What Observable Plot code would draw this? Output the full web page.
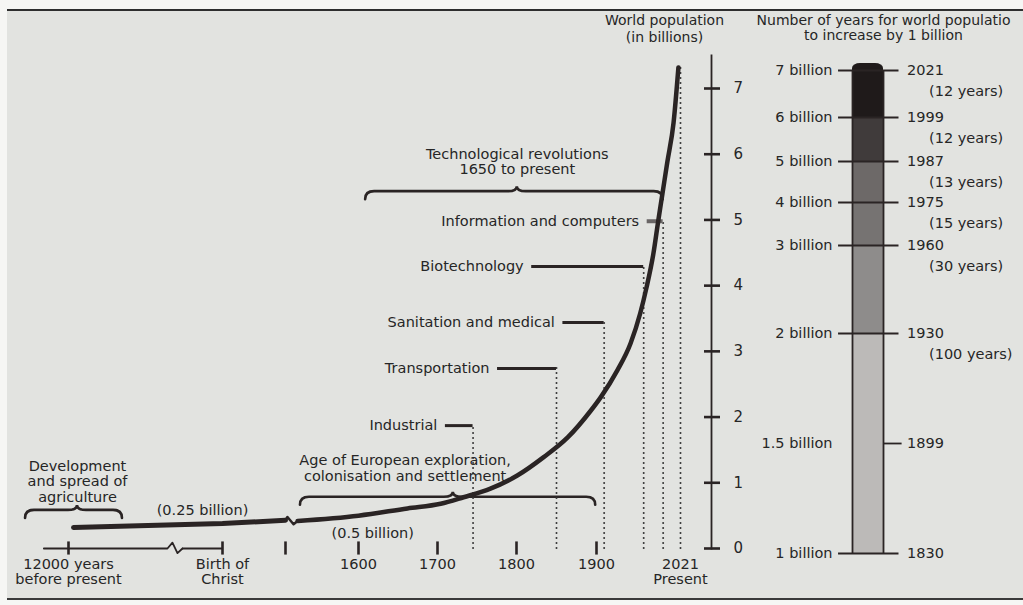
<!DOCTYPE html>
<html><head><meta charset="utf-8">
<script src="https://cdn.jsdelivr.net/npm/d3@7"></script>
<script src="https://cdn.jsdelivr.net/npm/@observablehq/plot@0.6"></script>
<style>
html,body{margin:0;padding:0;background:#f6f6f4;width:1023px;height:605px;overflow:hidden;}
#paper{position:absolute;left:7px;top:9px;width:1016px;height:587px;background:#e2e3e0;border-top:2px solid #2e2e2e;border-bottom:2px solid #3a3a3a;}
.layer{position:absolute;left:0;top:0;}
</style></head><body>
<div id="paper"></div>
<div id="main" class="layer"></div>
<div id="side" class="layer"></div>
<script>
// ---------- data ----------
const tickYears = [-10000, 0, 1000, 1600, 1700, 1800, 1900];
const tickLabelYears = [-10000, 0, 1600, 1700, 1800, 1900, 2021];
const tickLabelTexts = ["12000 years\nbefore present", "Birth of\nChrist", "1600", "1700", "1800", "1900", "2021\nPresent"];

// axis line with its break mark (year, value)
const axisLineYears = [-11600, -3575, -3250, -2925, -2600];
const axisLineValues = [0, 0, 0.09, -0.07, 0];

// population, billions
const earlyYears = [-9675, 0, 1000];
const earlyPop = [0.32, 0.38, 0.43];
const breakYears = [1000, 1016, 1066, 1100];
const breakPop = [0.43, 0.48, 0.37, 0.42];
const popYears = [1100, 1600, 1662, 1704, 1733, 1767, 1801, 1834, 1864, 1893, 1906, 1930, 1949, 1963, 1972, 1982, 1989, 1995, 2002, 2011, 2018];
const popValues = [0.42, 0.50, 0.61, 0.68, 0.78, 0.91, 1.11, 1.39, 1.69, 2.10, 2.30, 2.71, 3.12, 3.58, 3.97, 4.49, 4.99, 5.40, 5.88, 6.48, 7.32];

const revolutions = ["Industrial", "Transportation", "Sanitation and medical", "Biotechnology", "Information and computers"];
const revStart = [1710, 1776, 1858, 1819, 1973];
const revYear = [1745, 1850, 1911, 1968, 1996];
const revPop = [1.87, 2.74, 3.44, 4.29, 4.98];
const presentYear = 2021;
const presentPop = 7.32;

const yTicks = [0, 1, 2, 3, 4, 5, 6, 7];

const noteTexts = ["Development\nand spread of\nagriculture", "(0.25 billion)", "(0.5 billion)", "Age of European exploration,\ncolonisation and settlement", "Technological revolutions\n1650 to present"];
const noteYears = [-9416, -1298, 1618, 1659, 1801];
const notePop = [1.02, 0.58, 0.23, 1.23, 5.89];

const braceFrom = [-12790, 1123, 1609];
const braceTo = [-6495, 1899, 1996];
const braceMid = [-9416, 1720, 1801];
const bracePop = [0.58, 0.78, 5.43];

// right panel
const billions = [1, 1.5, 2, 3, 4, 5, 6, 7];
const billionYears = [1830, 1899, 1930, 1960, 1975, 1987, 1999, 2021];
const intervalTexts = ["", "", "(100 years)", "(30 years)", "(15 years)", "(13 years)", "(12 years)", "(12 years)"];
const segLow = [1, 2, 3, 4, 5, 6];
const segHigh = [2, 3, 4, 5, 6, 7];

// ---------- scale layout (broken time axis, uneven billion axis) ----------
const timeAxis = d3.scaleLinear()
  .domain([-10000, 0, 1000, 1600, 1700, 1800, 1900, 2021])
  .range([68, 222, 285, 358, 437, 516, 596, 680]);
const billionAxis = d3.scaleLinear()
  .domain(billions)
  .range([553, 443, 333, 245, 202, 161, 117, 70]);

// ---------- styles ----------
const ink = "#2a2424";
const shades = ["#bcbab8", "#8e8c8b", "#767372", "#6d6968", "#403b3b", "#1f1a1a"];
const font = {fontFamily: "DejaVu Sans, sans-serif", fontSize: "14.5px", background: "transparent", color: "#262626", overflow: "visible"};

const idx = n => d3.range(n);

const main = Plot.plot({
  width: 1023, height: 605,
  marginLeft: 0, marginRight: 312, marginTop: 55, marginBottom: 57,
  style: font,
  x: {transform: timeAxis, domain: [0, 1023], range: [0, 1023], axis: null},
  y: {domain: [0, 7], range: [548, 88]},
  marks: [
    // time axis
    Plot.line(idx(axisLineYears.length), {x: i => axisLineYears[i], y: i => axisLineValues[i], stroke: ink, strokeWidth: 1.8}),
    Plot.ruleY([0], {x1: axisLineYears[axisLineYears.length - 1], stroke: ink, strokeWidth: 1.8}),
    Plot.ruleX(tickYears, {x: d => d, y1: -0.1, y2: 0.1, stroke: ink, strokeWidth: 2.6}),
    Plot.text(idx(tickLabelYears.length), {x: i => tickLabelYears[i], y: 0, text: i => tickLabelTexts[i], lineAnchor: "top", dy: 9, lineHeight: 1.08, fontSize: 14.5}),
    // y axis
    Plot.frame({anchor: "right", stroke: ink, strokeWidth: 1.8}),
    Plot.axisY({anchor: "right", ticks: yTicks, tickSize: 16, dx: -8, tickPadding: 14, strokeWidth: 2.6, stroke: ink, fontSize: 15, tickFormat: d => d, label: null}),
    // dotted year lines
    Plot.ruleX(idx(revYear.length), {x: i => revYear[i], y1: 0, y2: i => revPop[i], stroke: "#333", strokeWidth: 2, strokeDasharray: "0 5", strokeLinecap: "round"}),
    Plot.ruleX([presentYear], {x: d => d, y1: 0, y2: presentPop, stroke: "#333", strokeWidth: 2, strokeDasharray: "0 5", strokeLinecap: "round"}),
    // revolution leader lines
    Plot.ruleY(idx(4), {y: i => revPop[i], x1: i => revStart[i], x2: i => revYear[i], stroke: ink, strokeWidth: 3}),
    Plot.ruleY([4], {y: i => revPop[i], x1: i => revStart[i], x2: i => revYear[i], stroke: "#6a6666", strokeWidth: 4}),
    Plot.text(idx(revolutions.length), {x: i => revStart[i], y: i => revPop[i], text: i => revolutions[i], textAnchor: "end", dx: -8, fontSize: 14.5}),
    // notes
    Plot.text(idx(noteTexts.length), {x: i => noteYears[i], y: i => notePop[i], text: i => noteTexts[i], lineHeight: 1.08, fontSize: 14.5}),
    // population curve
    Plot.line(idx(earlyYears.length), {x: i => earlyYears[i], y: i => earlyPop[i], stroke: ink, strokeWidth: 5}),
    Plot.line(idx(breakYears.length), {x: i => breakYears[i], y: i => breakPop[i], stroke: ink, strokeWidth: 2.5}),
    Plot.line(idx(popYears.length), {x: i => popYears[i], y: i => popValues[i], stroke: ink, strokeWidth: 4.5, curve: "monotone-x"}),
    // titles
    Plot.text(["World population\n(in billions)"], {text: d => d, frameAnchor: "top-left", dx: 664, dy: -27, textAnchor: "middle", lineAnchor: "middle", lineHeight: 1.2, fontSize: 14})
  ]
});
document.getElementById("main").appendChild(main);

// braces drawn over the plot's time / value mapping
(function () {
  const sy = main.scale("y");
  const g = d3.select(main).insert("g", "g").attr("fill", "none").attr("stroke", ink).attr("stroke-width", 2.6).attr("stroke-linecap", "round");
  braceFrom.forEach((f, i) => {
    const x1 = timeAxis(f), x2 = timeAxis(braceTo[i]), xm = timeAxis(braceMid[i]), y = sy.apply(bracePop[i]);
    const q = 9, d = 8, p = 5;
    const path = `M${x1},${y + d} Q${x1},${y} ${x1 + q},${y} L${xm - q},${y} Q${xm},${y} ${xm},${y - p} Q${xm},${y} ${xm + q},${y} L${x2 - q},${y} Q${x2},${y} ${x2},${y + d}`;
    g.append("path").attr("d", path);
  });
})();

const side = Plot.plot({
  width: 1023, height: 605,
  marginLeft: 0, marginRight: 0, marginTop: 0, marginBottom: 0,
  style: font,
  x: {domain: [0, 1], range: [852, 883], axis: null},
  y: {transform: billionAxis, domain: [0, 605], range: [0, 605], axis: null},
  color: {type: "identity"},
  marks: [
    Plot.rect([7], {x1: 0, x2: 1, y1: d => d - 0.2, y2: d => d + 0.15, rx: 8, ry: 5, fill: shades[5]}),
    Plot.rect(idx(segLow.length), {x1: 0, x2: 1, y1: i => segLow[i], y2: i => segHigh[i], fill: i => shades[i]}),
    Plot.ruleX([0, 1], {x: d => d, y1: 1, y2: 7, stroke: ink, strokeWidth: 1.8}),
    Plot.ruleY(billions.filter(b => b !== 1.5), {y: d => d, x1: -0.45, x2: 1.5, stroke: ink, strokeWidth: 1.8}),
    Plot.ruleY([1.5], {y: d => d, x1: 1, x2: 1.6, stroke: ink, strokeWidth: 1.8}),
    Plot.text(billions, {x: -0.45, dx: -6, y: d => d, text: d => `${d} billion`, textAnchor: "end", fontSize: 14.5}),
    Plot.text(idx(billions.length), {x: 1.5, dx: 8, y: i => billions[i], text: i => String(billionYears[i]), textAnchor: "start", fontSize: 14.5}),
    Plot.text(idx(billions.length), {x: 1.5, dx: 30, dy: 21, y: i => billions[i], text: i => intervalTexts[i], textAnchor: "start", fontSize: 14.5}),
    Plot.text(["Number of years for world populatio\nto increase by 1 billion"], {text: d => d, frameAnchor: "top-left", dx: 883, dy: 27, textAnchor: "middle", lineAnchor: "middle", lineHeight: 1.1, fontSize: 14})
  ]
});
document.getElementById("side").appendChild(side);
</script>
</body></html>
